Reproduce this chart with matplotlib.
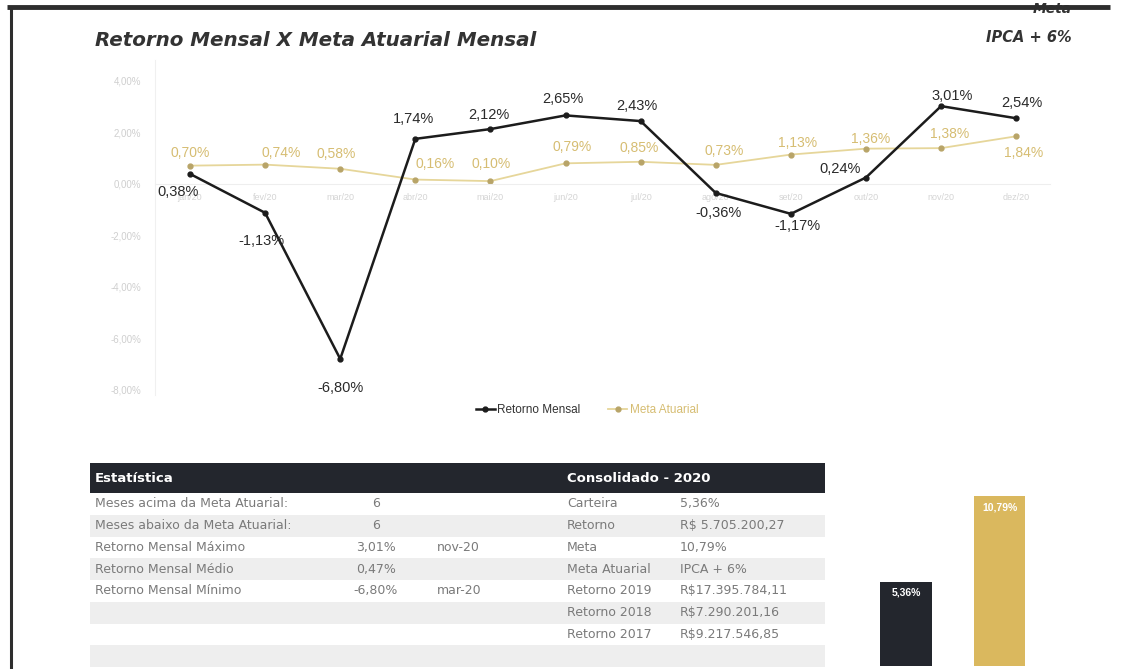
import numpy as np
import matplotlib
matplotlib.use('Agg')
import matplotlib.pyplot as plt
from matplotlib.patches import Rectangle

#Data
#--------------------------------
months=['jan/20','fev/20','mar/20','abr/20','mai/20','jun/20','jul/20','ago/20','set/20','out/20','nov/20','dez/20']
retorno=[0.38,-1.13,-6.80,1.74,2.12,2.65,2.43,-0.36,-1.17,0.24,3.01,2.54]
meta=[0.70,0.74,0.58,0.16,0.10,0.79,0.85,0.73,1.13,1.36,1.38,1.84]
y_ticks=[4,2,0,-2,-4,-6,-8]

stat_labels=['Meses acima da Meta Atuarial:','Meses abaixo da Meta Atuarial:','Retorno Mensal Máximo','Retorno Mensal Médio','Retorno Mensal Mínimo']
stat_values=['6','6','3,01%','0,47%','-6,80%']
stat_months=['','','nov-20','','mar-20']

cons_labels=['Carteira','Retorno','Meta','Meta Atuarial','Retorno 2019','Retorno 2018','Retorno 2017']
cons_values=['5,36%','R$ 5.705.200,27','10,79%','IPCA + 6%','R$17.395.784,11','R$7.290.201,16','R$9.217.546,85']

bar_names=['Carteira','Meta']
bar_values=[5.36,10.79]
#--------------------------------

#Figure settings
#--------------------------------
W=1125;H=669
plt.rcParams['font.family']=['Liberation Sans','DejaVu Sans']
dark='#23262d';gold='#dab85e';gold_line='#e6d69a';gold_txt='#d6bd72'
size_lab=10.5;size_ticks=7;size_tab=9
tab_font='DejaVu Sans';tab_col='#7a7a7a'

def fx(px): return px/W
def fy(py): return 1-py/H

fig=plt.figure(figsize=(W/100,H/100),dpi=100)

#Line chart
#--------------------------------
ax=fig.add_axes([fx(155),fy(395),fx(1050-155),(395-60)/H])
ax.spines['bottom'].set_position(('data',0))
x=np.arange(len(months))
ax.plot(x,meta,color=gold_line,lw=1.3,marker='o',ms=3.5,mfc='#b8a468',mec='#b8a468',zorder=2,label='Meta Atuarial')
ax.plot(x,retorno,color='#1c1c1c',lw=1.8,marker='o',ms=3.5,zorder=3,label='Retorno Mensal')
ax.set_xlim(-0.466,11.45);ax.set_ylim(-8.2,4.8)

def pct(v): return ('%.2f%%'%v).replace('.',',')

#label offsets in pixels
off_ret=[(-12,-18),(-4,-28),(0,-29),(-2,20),(-2,14),(-3,16),(-4,15),(3,-20),(7,-12),(-26,9),(11,10),(6,15)]
off_meta=[(0,13),(16,12),(-4,15),(20,16),(1,17),(7,16),(-1,14),(8,14),(7,12),(5,10),(9,14),(7,-17)]
for i in range(len(months)):
    ax.annotate(pct(retorno[i]),(x[i],retorno[i]),xytext=off_ret[i],textcoords='offset pixels',
                ha='center',va='center',fontsize=size_lab,color='#2a2a2a',zorder=5)
    ax.annotate(pct(meta[i]),(x[i],meta[i]),xytext=off_meta[i],textcoords='offset pixels',
                ha='center',va='center',fontsize=size_lab-0.5,color=gold_txt,zorder=4)

ax.set_xticks(x);ax.set_xticklabels(months,fontsize=6.5,color='#d4d4d4')
ax.set_yticks(y_ticks);ax.set_yticklabels([('%.2f%%'%t).replace('.',',') for t in y_ticks],fontsize=size_ticks,color='#cfcfcf')
ax.tick_params(length=0)
ax.tick_params(axis='x',pad=7)
ax.tick_params(axis='y',pad=10)
ax.spines['bottom'].set_color('#eeeeee')
ax.spines['left'].set_color('#f0f0f0')
ax.spines['top'].set_visible(False);ax.spines['right'].set_visible(False)
ax.patch.set_alpha(0)

h,l=ax.get_legend_handles_labels()
leg=fig.legend(h[::-1],l[::-1],loc='center',bbox_to_anchor=(fx(587),fy(410)),ncol=2,frameon=False,
               fontsize=8.5,handlelength=1.6,handletextpad=0.2,columnspacing=2.4)
leg.get_texts()[0].set_color('#333333');leg.get_texts()[1].set_color(gold_txt)

#Overlay: title, frame, tables
#--------------------------------
ov=fig.add_axes([0,0,1,1],zorder=-1)
ov.set_xlim(0,W);ov.set_ylim(H,0);ov.axis('off')

ov.text(95,40,'Retorno Mensal X Meta Atuarial Mensal',fontsize=14.3,fontweight='bold',style='italic',
        family='DejaVu Sans',color='#333333',va='center',ha='left')
ov.text(1072,9,'Meta',fontsize=10,fontweight='bold',style='italic',family='DejaVu Sans',color='#333333',va='center',ha='right')
ov.text(1072,37,'IPCA + 6%',fontsize=10.5,fontweight='bold',style='italic',family='DejaVu Sans',color='#333333',va='center',ha='right')
ov.plot([7,1110],[7,7],color='#2e2e2e',lw=3.5,solid_capstyle='butt',zorder=10)
ov.plot([11,11],[7,H],color='#2e2e2e',lw=2.2,solid_capstyle='butt',zorder=10)

#table rows
row_h=21.75;top=493
for r in range(8):
    c='#ffffff' if r%2==0 else '#eeeeee'
    ov.add_patch(Rectangle((90,top+r*row_h),825-90,row_h,color=c,lw=0))
ov.add_patch(Rectangle((90,463),825-90,30,color=dark,lw=0))
ov.text(95,478,'Estatística',fontsize=9.5,fontweight='bold',family=tab_font,color='white',va='center')
ov.text(567,478,'Consolidado - 2020',fontsize=9.5,fontweight='bold',family=tab_font,color='white',va='center')

for r in range(len(stat_labels)):
    yc=top+(r+0.5)*row_h
    ov.text(95,yc,stat_labels[r],fontsize=size_tab,family=tab_font,color=tab_col,va='center')
    ov.text(376,yc,stat_values[r],fontsize=size_tab,family=tab_font,color=tab_col,va='center',ha='center')
    ov.text(437,yc,stat_months[r],fontsize=size_tab,family=tab_font,color=tab_col,va='center')
for r in range(len(cons_labels)):
    yc=top+(r+0.5)*row_h
    ov.text(567,yc,cons_labels[r],fontsize=size_tab,family=tab_font,color=tab_col,va='center')
    ov.text(680,yc,cons_values[r],fontsize=size_tab,family=tab_font,color=tab_col,va='center')

#Bars
#--------------------------------
bx=fig.add_axes([fx(840),fy(666),fx(240),196/H])
bars=bx.bar([0,1],bar_values,width=0.556,color=[dark,gold])
bx.set_xlim(-0.706,1.861);bx.set_ylim(0,12.44)
bx.axis('off')
for i,b in enumerate(bars):
    bx.text(i,bar_values[i]-0.7,pct(bar_values[i]),ha='center',va='center',fontsize=7.5,
            fontweight='bold',color='white')

plt.savefig('out.png',dpi=100)
